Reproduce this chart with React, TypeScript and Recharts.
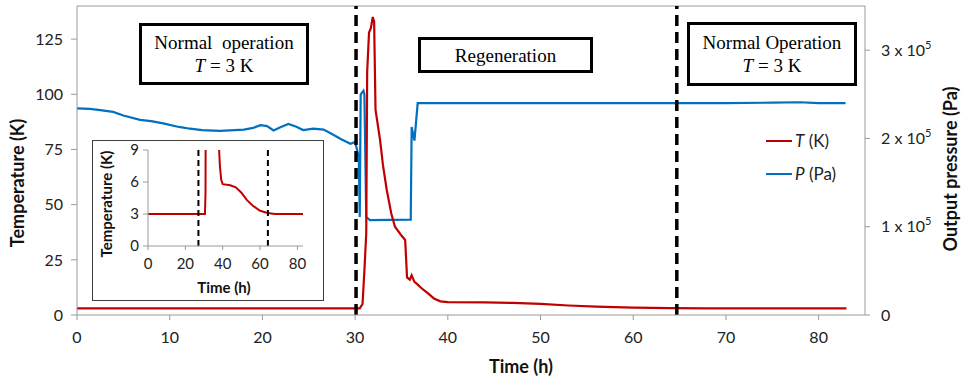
import React from 'react';
import { Line, LineChart, ReferenceLine, XAxis, YAxis } from 'recharts';

// temperature trace (h, K)
const TIME_T = [
  0, 10, 20, 30.5, 30.8, 31.0, 31.2, 31.3, 31.5, 31.7, 31.9, 32.05, 32.2, 32.7, 33.0, 33.4, 33.9,
  34.3, 35.0, 35.4, 35.6, 35.9, 36.1, 36.4, 36.7, 37.2, 37.8, 38.5, 39.2, 40, 44, 47, 50, 53, 56,
  60, 64, 68, 75, 83,
];
const TEMP_K = [
  3, 3, 3, 3, 5, 20, 37, 110, 128, 130, 135, 133, 93, 79, 68, 57, 46,
  40, 36, 34, 17, 16, 18, 15, 14, 12, 10, 7.5, 6.2, 5.8, 5.7, 5.5, 5.0, 4.3, 3.8,
  3.3, 3.1, 3.0, 3.0, 3.0,
];

// output pressure trace (h, Pa)
const TIME_P = [
  0, 1.4, 2.5, 3.9, 5, 6.8, 8, 9.3, 11, 12.2, 13.5, 15.4, 17, 18, 19, 19.8, 20.5, 21.2, 22, 22.8,
  23.6, 24.4, 25.5, 26.6, 27.5, 28.5, 29.5, 30, 30.4, 30.5, 30.6, 30.9, 31.0, 31.2, 31.6, 36.0,
  36.1, 36.4, 36.75, 45, 55, 65, 70, 75, 78, 80, 82.9,
];
const PRESS_PA = [
  234000, 233500, 232000, 230000, 226000, 221000, 219500, 217000, 213000, 211000, 209500, 208500,
  209500, 210000, 212000, 215000, 214000, 209000, 213000, 216500, 213500, 209500, 211000, 210000,
  205000, 199000, 194000, 196000, 179000, 111000, 250000, 254000, 250000, 111000, 107500, 108000,
  213000, 197500, 240000, 240000, 240000, 240000, 240000, 240500, 241000, 240000, 240000,
];

const X_TICKS = [0, 10, 20, 30, 40, 50, 60, 70, 80];
const T_TICKS = [0, 25, 50, 75, 100, 125];
const P_TICKS = [0, 100000, 200000, 300000];
const INSET_X_TICKS = [0, 20, 40, 60, 80];
const INSET_T_TICKS = [0, 3, 6, 9];
const REGEN_START = 30.1;
const REGEN_END = 64.7;
const INSET_MARKS = [27, 64.2];

const RED = '#C00000';
const BLUE = '#0070C0';
const AXIS = '#9a9a9a';
const FONT = 'Lato, "Open Sans", sans-serif';
const SERIF = '"Liberation Serif", "DejaVu Serif", serif';

const tempData = TIME_T.map((t, i) => ({ t, temp: TEMP_K[i] }));
const pressData = TIME_P.map((t, i) => ({ t, press: PRESS_PA[i] }));

const PressureTick = (props: any) => {
  const { x, y, payload } = props;
  const n = payload.value / 100000;
  return (
    <text x={x} y={y} dy="0.35em" textAnchor="start" fontSize={16} fontFamily={FONT} fill="#222">
      {n === 0 ? '0' : `${n} x 10`}
      {n !== 0 && (
        <tspan dy={-7} fontSize={11}>
          5
        </tspan>
      )}
    </text>
  );
};

const LEGEND_ITEMS = [
  { c: RED, v: 'T', u: ' (K)' },
  { c: BLUE, v: 'P', u: ' (Pa)' },
];

const boxStyle = (left: number, top: number, width: number, height: number): React.CSSProperties => ({
  position: 'absolute',
  left,
  top,
  width,
  height,
  boxSizing: 'border-box',
  border: '3px solid #000',
  background: '#fff',
  fontFamily: SERIF,
  fontSize: 19,
  color: '#000',
  textAlign: 'center',
  display: 'flex',
  flexDirection: 'column',
  justifyContent: 'center',
  lineHeight: '23px',
});

const titleStyle = (left: number, top: number, size: number, rotate: boolean): React.CSSProperties => ({
  position: 'absolute',
  left,
  top,
  transform: rotate ? 'translate(-50%, -50%) rotate(-90deg)' : 'translate(-50%, -50%)',
  whiteSpace: 'nowrap',
  fontFamily: FONT,
  fontWeight: 700,
  fontSize: size,
  color: '#111',
});

export default function App() {
  const tickStyle = { fill: '#222', fontSize: 16, fontFamily: FONT };
  return (
    <div style={{ position: 'absolute', left: 0, top: 0, width: 961, height: 379, background: '#fff' }}>
      <LineChart width={961} height={379} margin={{ top: 6, right: 16, left: 17, bottom: 34 }}>
        <XAxis
          dataKey="t"
          type="number"
          domain={[0, 85]}
          ticks={X_TICKS}
          allowDuplicatedCategory={false}
          tick={tickStyle}
          stroke={AXIS}
          tickSize={5}
          tickMargin={12}
          height={30}
        />
        <YAxis
          yAxisId="left"
          domain={[0, 140]}
          ticks={T_TICKS}
          tick={tickStyle}
          stroke={AXIS}
          tickSize={6}
          tickMargin={8}
          width={60}
        />
        <YAxis
          yAxisId="right"
          orientation="right"
          domain={[0, 350000]}
          ticks={P_TICKS}
          tick={<PressureTick />}
          stroke={AXIS}
          tickSize={5}
          tickMargin={11}
          width={80}
        />
        <ReferenceLine yAxisId="left" y={140} stroke={AXIS} />
        <Line
          yAxisId="right"
          data={pressData}
          dataKey="press"
          type="linear"
          stroke={BLUE}
          strokeWidth={2.2}
          dot={false}
          isAnimationActive={false}
        />
        <Line
          yAxisId="left"
          data={tempData}
          dataKey="temp"
          type="linear"
          stroke={RED}
          strokeWidth={2.2}
          dot={false}
          isAnimationActive={false}
        />
        <ReferenceLine yAxisId="left" x={REGEN_START} stroke="#000" strokeWidth={3.5} strokeDasharray="11 6" />
        <ReferenceLine yAxisId="left" x={REGEN_END} stroke="#000" strokeWidth={3.5} strokeDasharray="11 6" />
      </LineChart>

      {/* legend */}
      <div style={{ position: 'absolute', left: 766, top: 124, fontFamily: FONT, fontSize: 17, color: '#222' }}>
        {LEGEND_ITEMS.map((it) => (
          <div key={it.v} style={{ display: 'flex', alignItems: 'center', height: 33 }}>
            <span style={{ display: 'inline-block', width: 26, height: 2, background: it.c, marginRight: 3 }} />
            <span>
              <i>{it.v}</i>
              {it.u}
            </span>
          </div>
        ))}
      </div>

      {/* axis titles */}
      <div style={titleStyle(17, 183, 18, true)}>Temperature (K)</div>
      <div style={titleStyle(950, 169, 18, true)}>Output pressure (Pa)</div>
      <div style={titleStyle(521, 366, 18, false)}>Time (h)</div>

      {/* phase boxes */}
      <div style={boxStyle(139, 23, 170, 62)}>
        <div>Normal&nbsp; operation</div>
        <div>
          <i>T</i> = 3 K
        </div>
      </div>
      <div style={boxStyle(418, 37, 175, 36)}>
        <div>Regeneration</div>
      </div>
      <div style={boxStyle(687, 22, 170, 64)}>
        <div>Normal Operation</div>
        <div>
          <i>T</i> = 3 K
        </div>
      </div>

      {/* inset: low temperature detail */}
      <div
        style={{
          position: 'absolute',
          left: 92,
          top: 140,
          width: 232,
          height: 161,
          boxSizing: 'border-box',
          border: '1.5px solid #404040',
          background: '#fff',
        }}
      >
        <LineChart width={229} height={158} margin={{ top: 9, right: 19, left: 24, bottom: 29 }}>
          <XAxis
            dataKey="t"
            type="number"
            domain={[0, 82]}
            ticks={INSET_X_TICKS}
            tick={{ fill: '#222', fontSize: 15, fontFamily: FONT }}
            stroke={AXIS}
            tickSize={4}
            tickMargin={8}
            height={24}
          />
          <YAxis
            domain={[0, 9]}
            allowDataOverflow
            ticks={INSET_T_TICKS}
            tick={{ fill: '#222', fontSize: 15, fontFamily: FONT }}
            stroke={AXIS}
            tickSize={5}
            tickMargin={4}
            width={31}
          />
          <Line
            data={tempData}
            dataKey="temp"
            type="linear"
            stroke={RED}
            strokeWidth={2}
            dot={false}
            isAnimationActive={false}
          />
          {INSET_MARKS.map((m) => (
            <ReferenceLine key={m} x={m} stroke="#000" strokeWidth={2} strokeDasharray="6 4" />
          ))}
        </LineChart>
        <div style={titleStyle(13, 63, 15, true)}>Temperature (K)</div>
        <div style={titleStyle(131, 146, 15, false)}>Time (h)</div>
      </div>
    </div>
  );
}
